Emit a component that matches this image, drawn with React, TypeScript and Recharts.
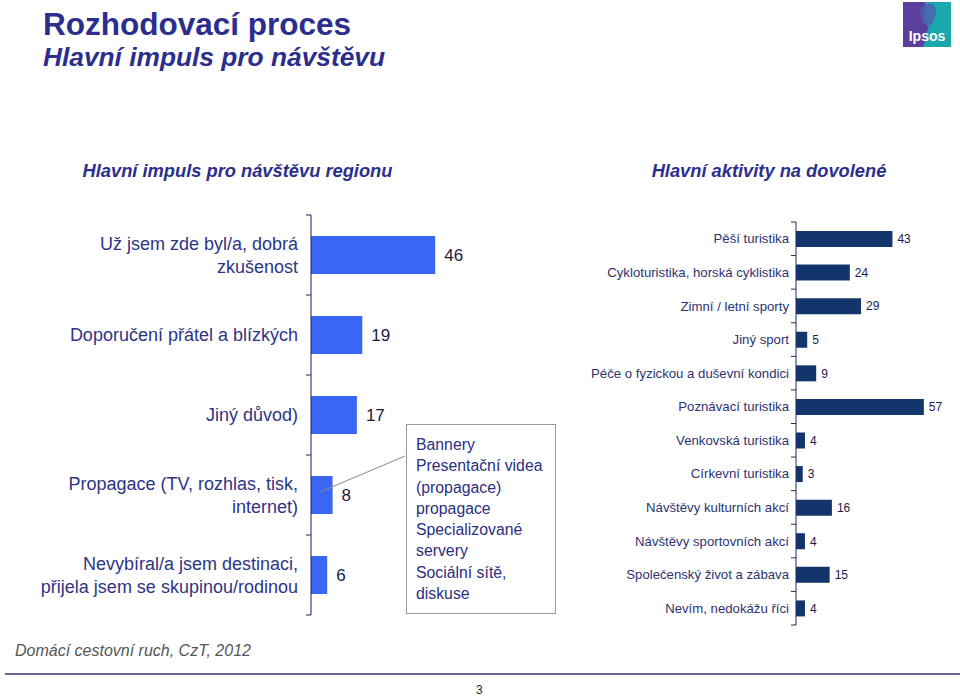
import React from 'react';
import { BarChart, Bar, XAxis, YAxis, LabelList } from 'recharts';

// levý graf – hlavní impuls pro návštěvu regionu
const impulsCategories = [
  'Už jsem zde byl/a, dobrá\nzkušenost',
  'Doporučení přátel a blízkých',
  'Jiný důvod)',
  'Propagace (TV, rozhlas, tisk,\ninternet)',
  'Nevybíral/a jsem destinaci,\npřijela jsem se skupinou/rodinou',
];
const impulsValues = [46, 19, 17, 8, 6];

// pravý graf – hlavní aktivity na dovolené
const activityCategories = [
  'Pěší turistika',
  'Cykloturistika, horská cyklistika',
  'Zimní / letní sporty',
  'Jiný sport',
  'Péče o fyzickou a duševní kondici',
  'Poznávací turistika',
  'Venkovská turistika',
  'Církevní turistika',
  'Návštěvy kulturních akcí',
  'Návštěvy sportovních akcí',
  'Společenský život a zábava',
  'Nevím, nedokážu říci',
];
const activityValues = [43, 24, 29, 5, 9, 57, 4, 3, 16, 4, 15, 4];

const propagaceLines = [
  'Bannery',
  'Presentační videa',
  '(propagace)',
  'propagace',
  'Specializované',
  'servery',
  'Sociální sítě,',
  'diskuse',
];

const impulsData = impulsCategories.map((name, i) => ({ name, value: impulsValues[i] }));
const activityData = activityCategories.map((name, i) => ({ name, value: activityValues[i] }));

const FONT = '"Liberation Sans", Arial, sans-serif';
const NAVY = '#2B2E8C';

type TickOpts = {
  axisX: number;
  gap: number;
  fontSize: number;
  lineH: number;
  color: string;
  band: number;
  count: number;
  axisColor: string;
};

const makeTick = (o: TickOpts) => (props: any) => {
  const { y, payload, index } = props;
  const lines = String(payload.value).split('\n');
  const y0 = y - ((lines.length - 1) * o.lineH) / 2;
  return (
    <g>
      {lines.map((l, i) => (
        <text
          key={i}
          x={o.axisX - o.gap}
          y={y0 + i * o.lineH}
          dy="0.35em"
          textAnchor="end"
          fontSize={o.fontSize}
          fill={o.color}
          fontFamily={FONT}
        >
          {l}
        </text>
      ))}
      <line x1={o.axisX - 5} x2={o.axisX} y1={y - o.band / 2} y2={y - o.band / 2} stroke={o.axisColor} />
      {index === o.count - 1 && (
        <line x1={o.axisX - 5} x2={o.axisX} y1={y + o.band / 2} y2={y + o.band / 2} stroke={o.axisColor} />
      )}
    </g>
  );
};

const LEFT_AXIS_X = 311;
const RIGHT_AXIS_X = 316;

const ImpulsChart = () => (
  <BarChart
    width={480}
    height={420}
    data={impulsData}
    layout="vertical"
    margin={{ top: 15, right: 7, bottom: 5, left: 0 }}
  >
    <XAxis type="number" domain={[0, 60]} hide />
    <YAxis
      type="category"
      dataKey="name"
      width={LEFT_AXIS_X}
      axisLine={{ stroke: '#1a1f5e' }}
      tickLine={false}
      interval={0}
      tick={makeTick({
        axisX: LEFT_AXIS_X,
        gap: 13,
        fontSize: 18,
        lineH: 22.5,
        color: '#2d3585',
        band: 400 / impulsCategories.length,
        count: impulsCategories.length,
        axisColor: '#1a1f5e',
      })}
    />
    <Bar dataKey="value" fill="#3A66F6" barSize={38} isAnimationActive={false}>
      <LabelList dataKey="value" position="right" offset={9} fill="#1b1b40" fontSize={17} fontFamily={FONT} />
    </Bar>
  </BarChart>
);

const ActivityChart = () => (
  <BarChart
    width={480}
    height={420}
    data={activityData}
    layout="vertical"
    margin={{ top: 12, right: 7, bottom: 5, left: 0 }}
  >
    <XAxis type="number" domain={[0, 70]} hide />
    <YAxis
      type="category"
      dataKey="name"
      width={RIGHT_AXIS_X}
      axisLine={{ stroke: '#1c2a5e' }}
      tickLine={false}
      interval={0}
      tick={makeTick({
        axisX: RIGHT_AXIS_X,
        gap: 7,
        fontSize: 13.2,
        lineH: 14,
        color: '#2d3270',
        band: 403 / activityCategories.length,
        count: activityCategories.length,
        axisColor: '#1c2a5e',
      })}
    />
    <Bar dataKey="value" fill="#12356B" barSize={16} isAnimationActive={false}>
      <LabelList dataKey="value" position="right" offset={5} fill="#1b1b50" fontSize={12} fontFamily={FONT} />
    </Bar>
  </BarChart>
);

const IpsosLogo = () => (
  <svg width={48} height={45} style={{ position: 'absolute', left: 903, top: 2 }}>
    <rect x={0} y={0} width={48} height={45} fill="#5a3f9e" />
    <path d="M22 0 H48 V45 H20 C24 38 22 30 26 26 C22 22 20 14 22 8 Z" fill="#1ba7ae" />
    <path d="M18 6 C22 0 32 0 33 8 C34 14 30 16 30 20 L27 24 L21 22 C19 18 16 12 18 6 Z" fill="#4f5fb0" opacity={0.8} />
    <text x={24} y={39} textAnchor="middle" fill="#fff" fontSize={14} fontWeight="bold" fontFamily={FONT}>
      Ipsos
    </text>
  </svg>
);

export default function App() {
  return (
    <div
      style={{
        position: 'absolute',
        left: 0,
        top: 0,
        width: 960,
        height: 696,
        background: '#fff',
        fontFamily: FONT,
        overflow: 'hidden',
      }}
    >
      <div style={{ position: 'absolute', left: 43, top: 6, fontSize: 31.5, fontWeight: 'bold', color: NAVY }}>
        Rozhodovací proces
      </div>
      <div
        style={{ position: 'absolute', left: 43, top: 42, fontSize: 26.3, fontWeight: 'bold', fontStyle: 'italic', color: NAVY }}
      >
        Hlavní impuls pro návštěvu
      </div>
      <IpsosLogo />

      <div
        style={{
          position: 'absolute',
          left: 40,
          width: 395,
          top: 160,
          textAlign: 'center',
          fontSize: 18.3,
          fontWeight: 'bold',
          fontStyle: 'italic',
          color: NAVY,
        }}
      >
        Hlavní impuls pro návštěvu regionu
      </div>
      <div
        style={{
          position: 'absolute',
          left: 619,
          width: 300,
          top: 160,
          textAlign: 'center',
          fontSize: 18.3,
          fontWeight: 'bold',
          fontStyle: 'italic',
          color: NAVY,
        }}
      >
        Hlavní aktivity na dovolené
      </div>

      <div style={{ position: 'absolute', left: 0, top: 200 }}>
        <ImpulsChart />
      </div>
      <div style={{ position: 'absolute', left: 480, top: 210 }}>
        <ActivityChart />
      </div>

      <svg width={960} height={696} style={{ position: 'absolute', left: 0, top: 0, pointerEvents: 'none' }}>
        <line x1={320} y1={492} x2={405} y2={456} stroke="#8a8a8a" strokeWidth={1} />
      </svg>
      <div
        style={{
          position: 'absolute',
          left: 406,
          top: 424,
          width: 139,
          height: 179,
          border: '1px solid #9a9a9a',
          padding: '9px 0 0 9px',
          fontSize: 15.8,
          lineHeight: '21.3px',
          color: '#2a2f80',
          background: '#fff',
        }}
      >
        {propagaceLines.map((l, i) => (
          <div key={i}>{l}</div>
        ))}
      </div>

      <div style={{ position: 'absolute', left: 15, top: 642, fontSize: 16, fontStyle: 'italic', color: '#555' }}>
        Domácí cestovní ruch, CzT, 2012
      </div>
      <div style={{ position: 'absolute', left: 5, right: 0, top: 673, height: 2, background: '#66669a' }} />
      <div style={{ position: 'absolute', left: 476, top: 683, fontSize: 12, color: '#222' }}>3</div>
    </div>
  );
}
